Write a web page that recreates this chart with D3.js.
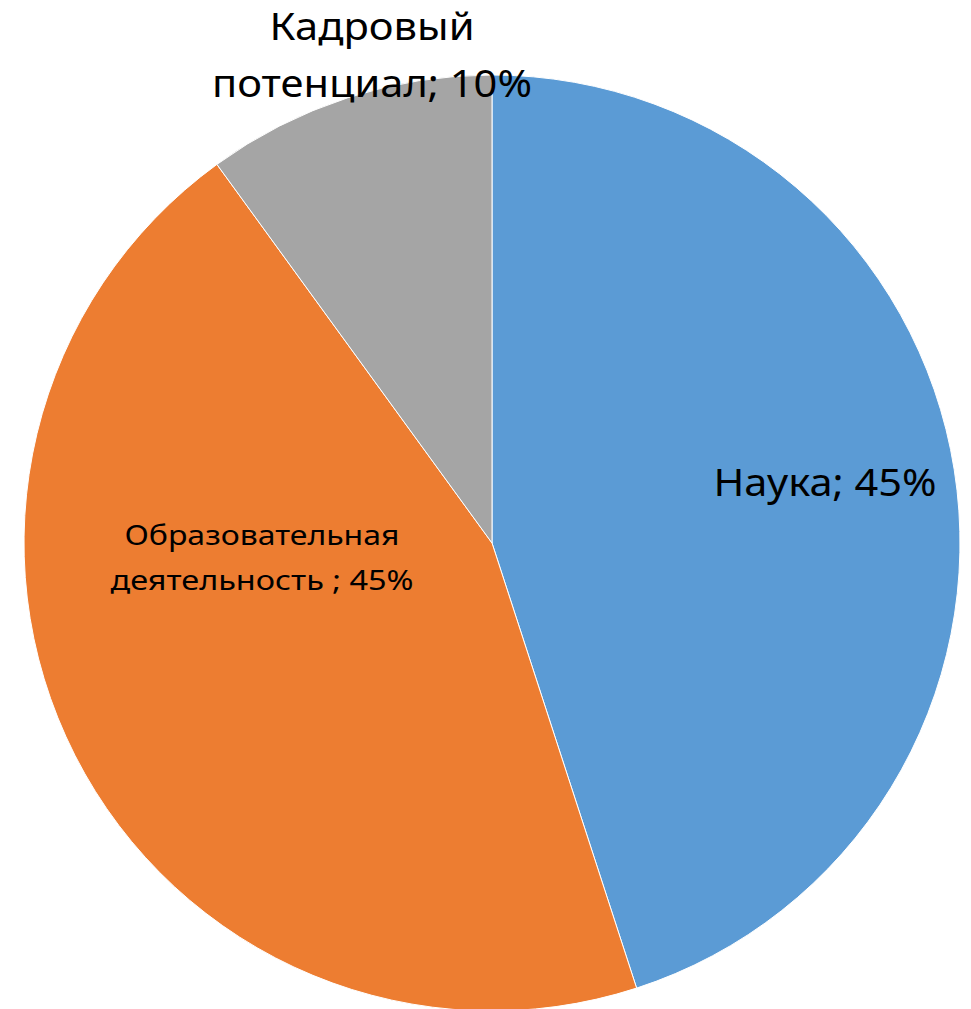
<!DOCTYPE html>
<html><head><meta charset="utf-8">
<script src="https://cdn.jsdelivr.net/npm/d3@7"></script>
<style>body{margin:0;background:#fff}svg{display:block}</style>
</head><body>
<script>
const categories = ["Наука", "Образовательная деятельность ", "Кадровый потенциал"];
const values = [45, 45, 10];
const labelLines = [["Наука; 45%"], ["Образовательная", "деятельность ; 45%"], ["Кадровый", "потенциал; 10%"]];
const colors = ["#5B9BD5", "#ED7D31", "#A5A5A5"];

const W = 971, H = 1009;
const cx = 492, cy = 543, R = 468;
const svg = d3.select("body").append("svg").attr("width", W).attr("height", H);
const g = svg.append("g").attr("transform", `translate(${cx},${cy})`);
const pie = d3.pie().sort(null).value(d => d)(values);
const arc = d3.arc().innerRadius(0).outerRadius(R);
g.selectAll("path").data(pie).enter().append("path")
  .attr("d", arc).attr("fill", (d, i) => colors[i])
  .attr("stroke", "#fff").attr("stroke-width", 1);

const font = "'Noto Sans', 'Open Sans', sans-serif";
const labelPos = [
  {x: 825, y: 496, size: 39, lh: 0},
  {x: 262, y: 545, size: 28, lh: 45},
  {x: 372, y: 40, size: 38, lh: 57}
];
const widths = [[223], [275, 303], [205, 320]];
labelLines.forEach((lines, i) => {
  const p = labelPos[i];
  lines.forEach((t, j) => {
    svg.append("text").attr("x", p.x).attr("y", p.y + j * p.lh)
      .attr("text-anchor", "middle").attr("font-family", font)
      .attr("font-size", p.size).attr("fill", "#000")
      .attr("textLength", widths[i][j]).attr("lengthAdjust", "spacingAndGlyphs")
      .text(t);
  });
});
</script>
</body></html>
